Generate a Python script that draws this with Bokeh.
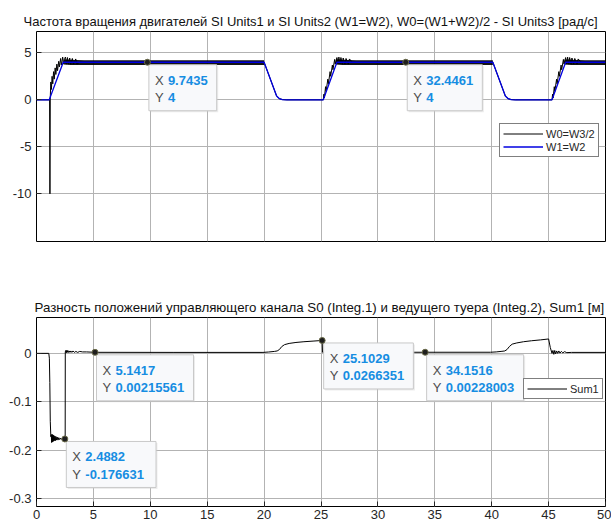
from bokeh.plotting import figure
from bokeh.models import ColumnDataSource, FixedTicker, Range1d, Legend, LegendItem
from bokeh.layouts import column
from bokeh.embed import file_html
from bokeh.resources import INLINE
from bokeh.core.properties import value

FONT = "Liberation Sans"

# ---------------- data ----------------
title_top = "Частота вращения двигателей SI Units1 и SI Units2 (W1=W2), W0=(W1+W2)/2 - SI Units3 [рад/с]"
title_bot = "Разность положений управляющего канала S0 (Integ.1) и ведущего туера (Integ.2), Sum1 [м]"

x_ticks = [0, 5, 10, 15, 20, 25, 30, 35, 40, 45, 50]
x_tick_labels = ["0", "5", "10", "15", "20", "25", "30", "35", "40", "45", "50"]
top_y_ticks = [-10, -5, 0, 5]
top_y_tick_labels = ["-10", "-5", "0", "5"]
bot_y_ticks = [-0.3, -0.2, -0.1, 0]
bot_y_tick_labels = ["-0.3", "-0.2", "-0.1", "0"]

# W1=W2 (blue)
w12_t = [0, 1.12, 2.35, 20.0, 21.1, 21.35, 21.6, 22.0, 25.2, 26.4, 40.1, 41.2, 41.45, 41.7, 42.1, 45.3, 46.5, 50.0]
w12_v = [0, 0, 4.0, 4.0, 0.4, 0.12, 0.03, 0, 0, 4.0, 4.0, 0.4, 0.12, 0.03, 0, 0, 4.0, 4.0]

# W0=W3/2 (black)
w0_t = [0, 1.15, 1.18, 1.21, 1.26, 1.31, 1.37, 1.43, 1.50, 1.56, 1.64, 1.70, 1.79, 1.85, 1.95, 2.01, 2.12, 2.18, 2.30, 2.36, 2.45,
        2.55, 2.62, 2.72, 2.80, 2.92, 3.00, 3.15, 3.25, 3.45, 3.55, 3.80,
        20.0, 21.1, 21.35, 21.6, 22.0, 25.2,
        25.25, 25.3, 25.4, 25.45, 25.6, 25.65, 25.8, 25.85, 26.0, 26.05, 26.2, 26.25, 26.4,
        26.5, 26.57, 26.67, 26.75, 26.87, 26.95, 27.1, 27.2, 27.4, 27.5, 27.75,
        40.1, 41.2, 41.45, 41.7, 42.1, 45.3,
        45.35, 45.4, 45.5, 45.55, 45.7, 45.75, 45.9, 45.95, 46.1, 46.15, 46.3, 46.35, 46.5,
        46.6, 46.67, 46.77, 46.85, 46.97, 47.05, 47.2, 47.3, 47.5, 47.6, 47.85, 50.0]
w0_v = [0, 0, -10, 0.3, 1.9, 1.1, 2.5, 1.7, 3.0, 2.2, 3.4, 2.7, 3.8, 3.1, 4.1, 3.5, 4.4, 3.7, 4.55, 3.8, 4.4,
        4.55, 3.8, 4.5, 3.8, 4.45, 3.8, 4.4, 3.8, 4.35, 3.8, 4.0,
        4.0, 0.4, 0.12, 0.03, 0, 0,
        0.6, 0.2, 1.4, 0.9, 2.2, 1.7, 3.0, 2.5, 3.7, 3.2, 4.3, 3.8, 4.5,
        3.8, 4.55, 3.8, 4.5, 3.8, 4.45, 3.8, 4.4, 3.8, 4.35, 4.0,
        4.0, 0.4, 0.12, 0.03, 0, 0,
        0.6, 0.2, 1.4, 0.9, 2.2, 1.7, 3.0, 2.5, 3.7, 3.2, 4.3, 3.8, 4.5,
        3.8, 4.55, 3.8, 4.5, 3.8, 4.45, 3.8, 4.4, 3.8, 4.35, 4.0, 4.0]

# envelope of the fast oscillation of W0 on the plateaus
band1_t = [2.40, 2.7, 3.0, 3.5, 4.2, 5.0, 20.0]
band2_t = [26.3, 26.6, 26.9, 27.4, 28.1, 28.9, 40.1]
band3_t = [46.4, 46.7, 47.0, 47.5, 48.2, 49.0, 50.0]
band_hi = [4.30, 4.28, 4.26, 4.24, 4.22, 4.21, 4.20]
band_lo = [3.75, 3.72, 3.70, 3.70, 3.70, 3.70, 3.70]

# Sum1
sum_t = [0, 1.08, 1.13, 1.17, 1.21, 1.26,
         1.30, 1.33, 1.36, 1.39, 1.42, 1.45, 1.48, 1.51, 1.55, 1.59, 1.63, 1.67, 1.72, 1.77, 1.83, 1.89, 1.96, 2.04, 2.13, 2.23, 2.34, 2.4882, 2.52,
         2.53, 2.57, 2.61, 2.65, 2.70, 2.75, 2.81, 2.87, 2.94, 3.02, 3.11, 3.21, 3.33, 3.46, 3.62, 3.80, 4.05, 4.4, 5.1417,
         12.0, 19.9, 20.4, 20.9, 21.15, 21.35, 21.55, 21.8, 22.2, 22.8, 23.5, 24.3, 25.1029, 25.13,
         30.0, 34.1516, 39.9, 40.4, 40.9, 41.15, 41.35, 41.55, 41.8, 42.2, 42.8, 43.5, 44.3, 45.0, 45.15, 45.3,
         45.38, 45.46, 45.54, 45.62, 45.71, 45.80, 45.90, 46.0, 46.12, 46.25, 46.4, 46.6, 47.0, 50.0]
sum_v = [0, 0, -0.01, -0.06, -0.14, -0.172,
         -0.168, -0.184, -0.167, -0.183, -0.168, -0.182, -0.169, -0.181, -0.17, -0.18, -0.171, -0.18, -0.172, -0.179, -0.173, -0.179, -0.174, -0.178, -0.175, -0.178, -0.176, -0.176631, -0.176,
         0.003, 0.006, 0.001, 0.006, 0.002, 0.006, 0.002, 0.005, 0.002, 0.005, 0.002, 0.005, 0.002, 0.004, 0.002, 0.004, 0.003, 0.003, 0.00215561,
         0.002, 0.002, 0.0028, 0.004, 0.005, 0.008, 0.014, 0.018, 0.0205, 0.0225, 0.024, 0.0253, 0.0266351, 0.0023,
         0.0023, 0.00228003, 0.0023, 0.003, 0.0042, 0.005, 0.008, 0.014, 0.019, 0.0215, 0.024, 0.026, 0.0278, 0.0297, 0.012, 0.0,
         0.006, -0.002, 0.006, -0.001, 0.005, 0.0, 0.005, 0.0005, 0.004, 0.001, 0.0035, 0.0015, 0.002, 0.002]

# data tips
top_tip_x = [9.7435, 32.4461]
top_tip_y = [4, 4]
top_tip_xs = ["9.7435", "32.4461"]
top_tip_ys = ["4", "4"]
bot_tip_x = [5.1417, 2.4882, 25.1029, 34.1516]
bot_tip_y = [0.00215561, -0.176631, 0.0266351, 0.00228003]
bot_tip_xs = ["5.1417", "2.4882", "25.1029", "34.1516"]
bot_tip_ys = ["0.00215561", "-0.176631", "0.0266351", "0.00228003"]

# ---------------- styling helpers ----------------
X0, X1 = 0, 50
TOP_Y = (-15.07, 7.27)
BOT_Y = (-0.316, 0.074)
FW = 569
TOP_FH = 210
BOT_FH = 189
GRID = "#b3b3b3"
TXT = "#262626"


def style(p, yt, ytl, show_x_labels, tsize, toffset):
    p.outline_line_color = "black"
    p.outline_line_width = 1
    p.background_fill_color = "white"
    p.border_fill_color = "white"
    p.title.text_font = FONT
    p.title.text_font_size = tsize
    p.title.text_font_style = "normal"
    p.title.text_color = "#111111"
    p.title.align = "left"
    p.title.offset = toffset
    p.title.standoff = 5
    for ax in p.xaxis + p.yaxis:
        ax.axis_line_color = None
        ax.major_tick_in = 5
        ax.major_tick_out = 0
        ax.minor_tick_line_color = None
        ax.major_tick_line_color = TXT
        ax.major_label_text_font = FONT
        ax.major_label_text_font_size = "13px"
        ax.major_label_text_color = TXT
    p.xaxis.ticker = FixedTicker(ticks=x_ticks)
    p.xaxis.major_label_overrides = dict(zip(x_ticks, x_tick_labels))
    p.xaxis.major_label_standoff = 3
    p.yaxis.ticker = FixedTicker(ticks=yt)
    p.yaxis.major_label_overrides = dict(zip(yt, ytl))
    p.yaxis.major_label_standoff = 5
    p.xgrid.ticker = FixedTicker(ticks=x_ticks)
    p.ygrid.ticker = FixedTicker(ticks=yt)
    for g in (p.xgrid, p.ygrid):
        g.grid_line_color = GRID
        g.grid_line_width = 1
    if not show_x_labels:
        p.xaxis.visible = False


def tips(p, xs, ys, xstr, ystr, sx, sy):
    h = 46.0
    widths = [24 + 7.3 * max(len(a), len(b)) for a, b in zip(xstr, ystr)]
    cx = [x + (1.5 + w / 2) / sx for x, w in zip(xs, widths)]
    cy = [y - (2.5 + h / 2) / sy for y in ys]
    cxs = [c + 1.5 / sx for c in cx]
    cys = [c - 1.5 / sy for c in cy]
    p.rect(x=cxs, y=cys, width=widths, height=h, width_units="screen", height_units="screen",
           fill_color="#c8c8c8", fill_alpha=0.35, line_color=None)
    p.rect(x=cx, y=cy, width=widths, height=h, width_units="screen", height_units="screen",
           fill_color="#f8f9fb", line_color="#c9c9c9", line_width=1)
    src = ColumnDataSource(dict(x=xs, y=ys, xs=xstr, ys=ystr,
                                lx=["X"] * len(xs), ly=["Y"] * len(xs)))
    common = dict(text_font=value(FONT), text_font_size="13px", text_baseline="middle", text_align="left")
    p.text(x="x", y="y", text="lx", source=src, x_offset=7.5, y_offset=18, text_color="#4d4d4d", **common)
    p.text(x="x", y="y", text="ly", source=src, x_offset=7.5, y_offset=35.5, text_color="#4d4d4d", **common)
    p.text(x="x", y="y", text="xs", source=src, x_offset=20.5, y_offset=18, text_color="#168de2",
           text_font_style="bold", **common)
    p.text(x="x", y="y", text="ys", source=src, x_offset=20.5, y_offset=35.5, text_color="#168de2",
           text_font_style="bold", **common)
    p.scatter(x=xs, y=ys, size=6, fill_color="#1e1e1e", line_color="#6b6b4a", line_width=1)


def legend_style(lg):
    lg.border_line_color = "black"
    lg.border_line_width = 1
    lg.background_fill_color = "white"
    lg.background_fill_alpha = 1
    lg.label_text_font = FONT
    lg.label_text_font_size = "11px"
    lg.label_text_color = TXT
    lg.padding = 3
    lg.spacing = 0
    lg.margin = 0
    lg.glyph_width = 40
    lg.glyph_height = 13
    lg.label_height = 13
    lg.label_standoff = 3


# ---------------- top figure ----------------
p1 = figure(frame_width=FW, frame_height=TOP_FH, output_backend="svg", toolbar_location=None,
            x_range=Range1d(X0, X1), y_range=Range1d(*TOP_Y), title=title_top,
            min_border_left=36, min_border_right=6, min_border_top=31, min_border_bottom=10)
style(p1, top_y_ticks, top_y_tick_labels, False, "13px", -13)

for bt in (band1_t, band2_t, band3_t):
    p1.varea(x=bt, y1=band_lo, y2=band_hi, fill_color="black", fill_alpha=0.92)
r_w0 = p1.line(w0_t, w0_v, line_color="black", line_width=1)
r_w12 = p1.line(w12_t, w12_v, line_color="#0000e0", line_width=1.3)
tips(p1, top_tip_x, top_tip_y, top_tip_xs, top_tip_ys, FW / (X1 - X0), TOP_FH / (TOP_Y[1] - TOP_Y[0]))

lg1 = Legend(items=[LegendItem(label="W0=W3/2", renderers=[r_w0]),
                    LegendItem(label="W1=W2", renderers=[r_w12])],
             location=(463, 84))
legend_style(lg1)
p1.add_layout(lg1)

# ---------------- bottom figure ----------------
p2 = figure(frame_width=FW, frame_height=BOT_FH, output_backend="svg", toolbar_location=None,
            x_range=Range1d(X0, X1), y_range=Range1d(*BOT_Y), title=title_bot,
            min_border_left=36, min_border_right=6, min_border_top=66, min_border_bottom=18)
style(p2, bot_y_ticks, bot_y_tick_labels, True, "13.3px", -2)

r_sum = p2.line(sum_t, sum_v, line_color="black", line_width=1)
tips(p2, bot_tip_x, bot_tip_y, bot_tip_xs, bot_tip_ys, FW / (X1 - X0), BOT_FH / (BOT_Y[1] - BOT_Y[0]))

lg2 = Legend(items=[LegendItem(label="Sum1", renderers=[r_sum])], location=(487, 107))
legend_style(lg2)
p2.add_layout(lg2)

layout = column(p1, p2, spacing=0)
open("out.html", "w").write(file_html(layout, INLINE))
